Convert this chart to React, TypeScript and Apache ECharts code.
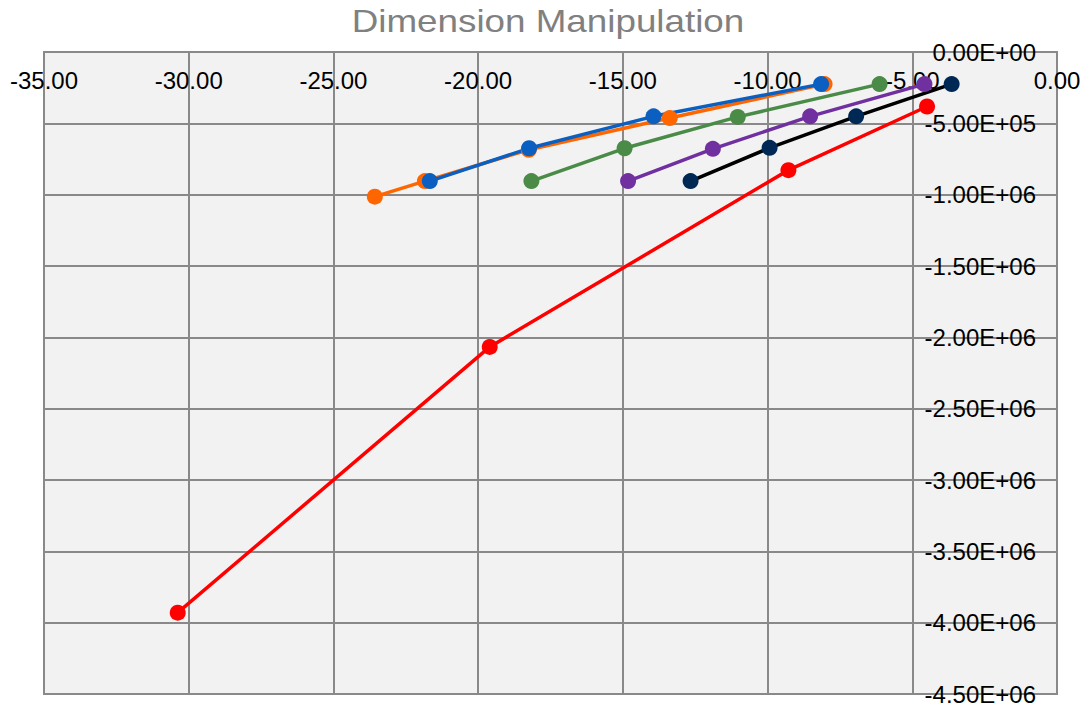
import React, { useEffect, useRef } from "react";
import * as echarts from "echarts";

const titleText = "Dimension Manipulation";

const orangeData: number[][] = [[-8.03, -225000], [-13.38, -463000], [-18.25, -685000], [-21.84, -905000], [-23.57, -1014000]];
const blueData: number[][] = [[-8.15, -225000], [-13.94, -451000], [-18.24, -675000], [-21.67, -905000]];
const greenData: number[][] = [[-6.13, -225000], [-11.03, -455000], [-14.94, -675000], [-18.16, -905000]];
const purpleData: number[][] = [[-4.58, -225000], [-8.53, -451000], [-11.89, -679000], [-14.82, -905000]];
const blackData: number[][] = [[-3.64, -225000], [-6.94, -451000], [-9.93, -672000], [-12.66, -905000]];
const redData: number[][] = [[-4.49, -382000], [-9.28, -828000], [-19.6, -2067000], [-30.38, -3930000]];

const xMin = -35;
const xMax = 0;
const xStep = 5;
const yMin = -4500000;
const yMax = 0;
const yStep = 500000;

function sci(v: number): string {
  if (v === 0) return "0.00E+00";
  const a = Math.abs(v);
  let e = Math.floor(Math.log10(a) + 1e-9);
  let m = a / Math.pow(10, e);
  if (m >= 9.995) { m /= 10; e += 1; }
  const sign = v < 0 ? "-" : "";
  const es = (e >= 0 ? "+" : "-") + String(Math.abs(e)).padStart(2, "0");
  return sign + m.toFixed(2) + "E" + es;
}

function mk(name: string, data: number[][], lineColor: string, markColor: string) {
  return {
    name,
    type: "line",
    data,
    symbol: "circle",
    symbolSize: 16,
    showSymbol: true,
    lineStyle: { color: lineColor, width: 3.5 },
    itemStyle: { color: markColor },
  };
}

export default function App() {
  const ref = useRef<HTMLDivElement>(null);
  useEffect(() => {
    document.body.style.margin = "0";
    if (!ref.current) return;
    const chart = echarts.init(ref.current, undefined, { renderer: "svg" });
    const font = "'Liberation Sans', Arial, sans-serif";
    chart.setOption({
      animation: false,
      backgroundColor: "#ffffff",
      graphic: [
        {
          type: "text",
          x: 548,
          y: 20.5,
          scaleX: 1.15,
          style: {
            text: titleText,
            fill: "#808080",
            font: "32px " + font,
            textAlign: "center",
            textVerticalAlign: "middle",
          },
        },
      ],
      grid: {
        left: 44,
        right: 30,
        top: 52,
        bottom: 9,
        show: true,
        backgroundColor: "#f2f2f2",
        borderColor: "#898989",
        borderWidth: 2,
      },
      xAxis: {
        type: "value",
        position: "top",
        min: xMin,
        max: xMax,
        interval: xStep,
        axisLine: { show: false },
        axisTick: { show: false },
        splitLine: { show: true, lineStyle: { color: "#898989", width: 2 } },
        axisLabel: {
          inside: true,
          margin: 16,
          color: "#000",
          fontSize: 24,
          fontFamily: font,
          formatter: (v: number) => v.toFixed(2),
        },
      },
      yAxis: {
        type: "value",
        position: "right",
        min: yMin,
        max: yMax,
        interval: yStep,
        axisLine: { show: false },
        axisTick: { show: false },
        splitLine: { show: true, lineStyle: { color: "#898989", width: 2 } },
        axisLabel: {
          inside: true,
          margin: 21,
          color: "#000",
          fontSize: 24,
          fontFamily: font,
          formatter: (v: number) => sci(v),
        },
      },
      series: [
        mk("Orange", orangeData, "#ff6600", "#ff6600"),
        mk("Blue", blueData, "#0a5fc0", "#0a5fc0"),
        mk("Green", greenData, "#4a8b47", "#4a8b47"),
        mk("Purple", purpleData, "#7030a0", "#7030a0"),
        mk("Black", blackData, "#000000", "#002855"),
        mk("Red", redData, "#ff0000", "#ff0000"),
      ],
    });
    return () => chart.dispose();
  }, []);
  return <div ref={ref} style={{ width: 1087, height: 706 }} />;
}
